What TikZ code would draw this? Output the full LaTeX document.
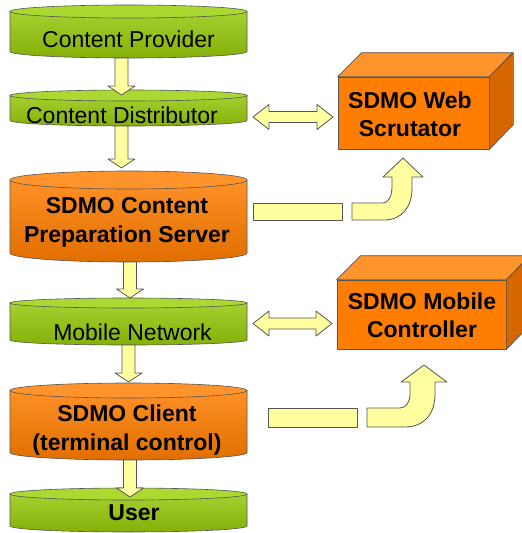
\documentclass[tikz,border=0pt]{standalone}
\usepackage{fontspec}
\setmainfont{Liberation Sans}
\usetikzlibrary{calc}
\definecolor{grn}{RGB}{150,200,10}
\definecolor{grntop}{RGB}{172,216,50}
\definecolor{org}{RGB}{255,125,0}
\definecolor{orgtop}{RGB}{255,148,45}
\definecolor{orgside}{RGB}{214,102,0}
\definecolor{ylw}{RGB}{255,255,160}
\definecolor{edge}{RGB}{85,85,85}
\tikzset{
  lbl/.style={font=\fontsize{23}{29}\selectfont, align=center, inner sep=0pt, text=black},
  blbl/.style={font=\bfseries\fontsize{23}{29}\selectfont, align=center, inner sep=0pt, text=black},
  bxlbl/.style={font=\bfseries\fontsize{23}{28}\selectfont, align=center, inner sep=0pt, text=black},
  blk/.style={fill=ylw, draw=edge, line width=0.8pt, line join=round},
  cyledge/.style={draw=edge, line width=0.6pt},
  boxedge/.style={draw=edge, line width=0.7pt, line join=round},
}
% #1 name, #2 ellipse top y, #3 bottom y, #4 ry, #5 body colour, #6 top colour
\newcommand\drawcyl[6]{%
  \path[cyledge, top color=#5!85!white, bottom color=#5!88!black]
    (10,#2+#4) -- (10,#3-#4) arc[start angle=180, end angle=360, x radius=118.5pt, y radius=#4pt]
    -- (247,#2+#4) -- cycle;
  \path[cyledge, fill=#6] (128.5,#2+#4) ellipse[x radius=118.5pt, y radius=#4pt];
  \coordinate (#1-top) at (128.5,#2);
  \coordinate (#1-bot) at (128.5,#3);
}
% vertical block arrow: #1 from, #2 to, #3 dx, #4 tip offset below target top
\newcommand\varr[4]{%
  \draw[blk] ($(#1)+(#3-6.5,0)$) -- ($(#2)+(#3-6.5,#4-9)$) -- ($(#2)+(#3-13.5,#4-9)$)
    -- ($(#2)+(#3,#4)$) -- ($(#2)+(#3+13.5,#4-9)$) -- ($(#2)+(#3+6.5,#4-9)$)
    -- ($(#1)+(#3+6.5,0)$) -- cycle;
}
% horizontal double block arrow between two coordinates at the same height
\newcommand\harr[2]{%
  \draw[blk] (#1) -- ($(#1)+(16,-12.5)$) -- ($(#1)+(16,-5.5)$) -- ($(#2)+(-16,-5.5)$)
    -- ($(#2)+(-16,-12.5)$) -- (#2) -- ($(#2)+(-16,12.5)$) -- ($(#2)+(-16,5.5)$)
    -- ($(#1)+(16,5.5)$) -- ($(#1)+(16,12.5)$) -- cycle;
}
% 3D box: #1 name, #2 cx, #3 cy, #4 w, #5 h
\newcommand\drawbox[5]{%
  \node[boxedge, fill=org, minimum width=#4pt, minimum height=#5pt, inner sep=0pt] (#1) at (#2,#3) {};
  \draw[boxedge, fill=orgtop] (#1.north west) -- ++(24,-24) -- ++(#4,0) -- (#1.north east) -- cycle;
  \draw[boxedge, fill=orgside] (#1.north east) -- ++(24,-24) -- ++(0,#5) -- (#1.south east) -- cycle;
}
\begin{document}
\begin{tikzpicture}[x=1pt,y=-1pt]
\useasboundingbox (0,0) rectangle (522,533);
\clip (0,0) rectangle (522,533);
\fill[white] (0,0) rectangle (522,533);

% cylinders
\drawcyl{cp}{5}{58}{6.5}{grn}{grntop}
\drawcyl{cd}{90}{126}{5.5}{grn}{grntop}
\drawcyl{sv}{171}{262}{9}{org}{orgtop}
\drawcyl{mn}{298}{345}{5}{grn}{grntop}
\drawcyl{cl}{383}{460}{7.5}{org}{orgtop}
\drawcyl{us}{488}{532}{6}{grn}{grntop}

\node[lbl] (cpt) at (128.5,39) {Content Provider};
\node[lbl] (cdt) at (122,115) {Content Distributor};
\node[blbl] (svt) at (127,222) {SDMO Content\\Preparation Server};
\node[lbl] (mnt) at (132.5,332) {Mobile Network};
\node[blbl] (clt) at (127,430) {SDMO Client\\(terminal control)};
\node[blbl] (ust) at (134,513) {User};

% vertical arrows
\varr{cp-bot}{cd-top}{-7}{5}
\varr{cd-bot}{sv-top}{-7}{-3}
\varr{sv-bot}{mn-top}{1.5}{0}
\varr{mn-bot}{cl-top}{0}{-1}
\varr{cl-bot}{us-top}{1.5}{9}

% boxes
\drawbox{ws}{413.5}{113}{151}{72}
\node[bxlbl] (wst) at (410,114) {SDMO Web\\Scrutator};
\drawbox{mc}{421.5}{314.5}{169}{69}
\node[bxlbl] (mct) at (422,315.5) {SDMO Mobile\\Controller};

% double arrows
\coordinate (h1a) at (253,117);
\coordinate (h1b) at (333,117);
\harr{h1a}{h1b}
\coordinate (h2a) at (253,323.5);
\coordinate (h2b) at (332,323.5);
\harr{h2a}{h2b}

% bent arrows towards the boxes
\draw[blk] (253,203) rectangle (342,220);
\draw[blk] (352,203) -- (382,203) .. controls (389,203) and (392,196) .. (392,186)
  -- (392,177) -- (383,177) -- (403,158) -- (423,177) -- (412,177) -- (412,188)
  .. controls (412,207) and (402,220) .. (384,220) -- (352,220) -- cycle;
\draw[blk] (268,408) rectangle (357,427);
\draw[blk] (367,408) -- (400,408) .. controls (406,408) and (410,402) .. (410,394)
  -- (410,382) -- (401,382) -- (424,365) -- (447,382) -- (435,382) -- (435,394)
  .. controls (435,414) and (424,427) .. (405,427) -- (367,427) -- cycle;
\end{tikzpicture}
\end{document}
